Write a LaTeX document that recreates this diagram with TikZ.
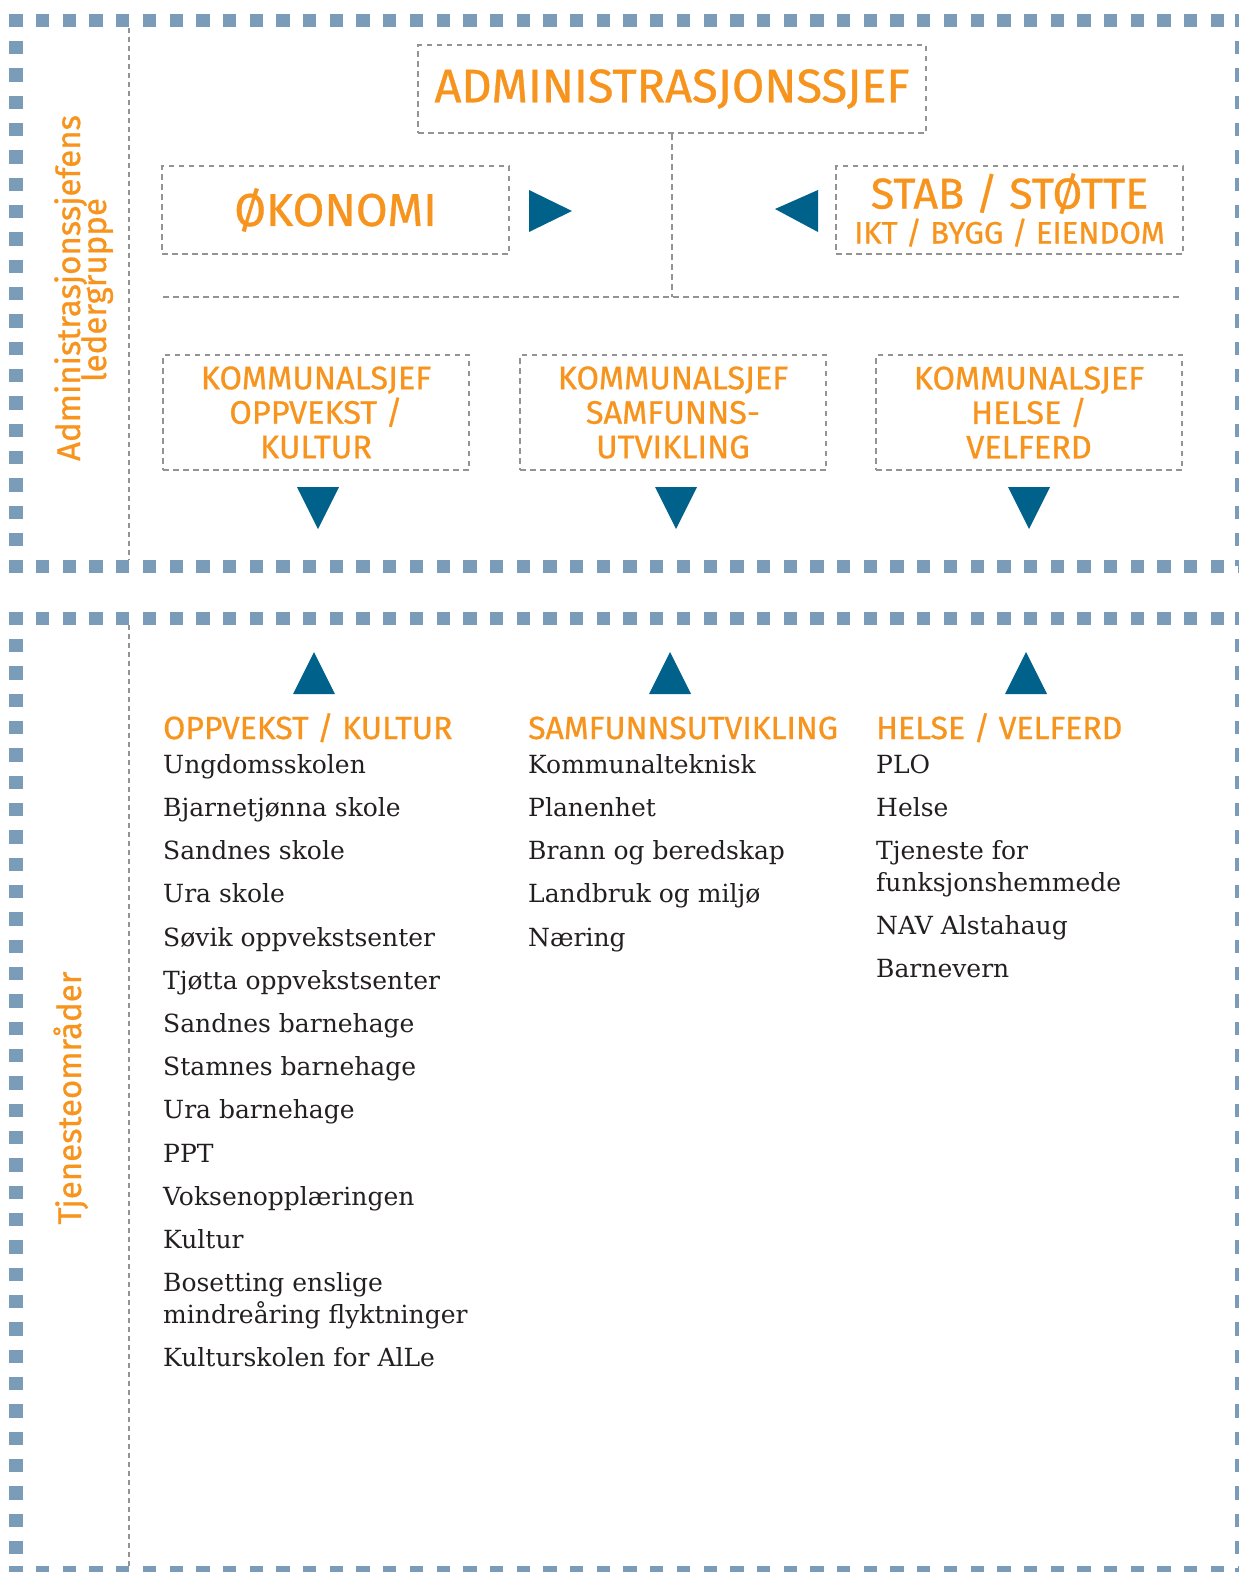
\documentclass[tikz,border=0pt]{standalone}
\usepackage{fontspec}
\setmainfont{DejaVu Serif}
\newfontfamily\hdfont[FakeBold=0.8]{Fira Sans}
\definecolor{orng}{HTML}{F7941D}
\definecolor{tri}{HTML}{00618A}
\definecolor{bsqcol}{HTML}{7A9CB8}
\definecolor{gline}{HTML}{939393}
\definecolor{txt}{HTML}{231F20}
\begin{document}
\begin{tikzpicture}[x=1pt,y=-1pt,
  bsq/.style={draw=bsqcol, line width=13.3pt, dash pattern=on 13.3pt off 13.4pt},
  bsqv/.style={draw=bsqcol, line width=13.3pt, dash pattern=on 13.3pt off 14.03pt},
  gdash/.style={draw=gline, line width=2.8pt, dash pattern=on 5.5pt off 4.5pt},
  gdot/.style={draw=gline, line width=2.3pt, dash pattern=on 4.5pt off 4.5pt},
  gbox/.style={gdash, inner sep=0pt, text=orng, align=center},
  tri/.style={fill=tri},
  head/.style={anchor=base west, inner sep=0pt, text=orng, font=\hdfont\fontsize{32}{34}\selectfont},
  item/.style={anchor=base west, inner sep=0pt, text=txt, align=left, font=\fontsize{25}{32}\selectfont},
  ksj/.style={gbox, minimum width=306pt, minimum height=115pt, font=\hdfont\fontsize{32.5}{34.5}\selectfont},
  vlab/.style={rotate=90, anchor=base, inner sep=0pt, text=orng, font=\hdfont\fontsize{33}{36}\selectfont}
]
\useasboundingbox (0,0) rectangle (1239,1572);
\clip (0,0) rectangle (1239,1572);

% outer frames
\draw[bsq] (9.3,20.5) -- (1250,20.5);
\draw[bsqv] (16,13.8) -- (16,566);
\draw[bsq] (9.3,566.5) -- (1250,566.5);
\draw[bsqv] (1242,13.8) -- (1242,566);
\draw[bsq] (9.3,618.5) -- (1250,618.5);
\draw[bsqv] (16,611.8) -- (16,1580);
\draw[bsq] (9.3,1572.7) -- (1250,1572.7);
\draw[bsqv] (1242,611.8) -- (1242,1580);

% inner separators
\coordinate (sepA1) at (129,28);
\coordinate (sepA2) at (129,560);
\coordinate (sepB1) at (129,625);
\coordinate (sepB2) at (129,1566);
\draw[gdot] (sepA1) -- (sepA2);
\draw[gdot] (sepB1) -- (sepB2);

% side labels
\node[vlab] (lab1) at (80,288) {Administrasjonssjefens};
\node[vlab] (lab2) at (106,290) {ledergruppe};
\node[vlab] (lab3) at (81,1098) {Tjenesteområder};

% top boxes
\node[gbox, minimum width=508pt, minimum height=88pt, font=\hdfont\fontsize{47}{50}\selectfont] (admin) at (672,89) {ADMINISTRASJONSSJEF};
\node[gbox, minimum width=347pt, minimum height=88pt, font=\hdfont\fontsize{46}{50}\selectfont] (okon) at (335.5,210) {ØKONOMI};
\node[gbox, minimum width=347pt, minimum height=88pt, font=\hdfont\fontsize{31}{35}\selectfont] (stab) at (1009.5,210)
  {{\fontsize{43}{35}\selectfont STAB / STØTTE}\\IKT / BYGG / EIENDOM};

% connectors
\coordinate (hl1) at (163,297);
\coordinate (hl2) at (1181,297);
\draw[gdash] (hl1) -- (hl2);
\draw[gdash] (admin.south) -- (admin.south |- hl1);

% horizontal triangles
\fill[tri] (529,190) -- (572,211) -- (529,232) -- cycle;
\fill[tri] (818,190) -- (775,209) -- (818,232) -- cycle;

% kommunalsjef boxes
\node[ksj] (k1) at (316,412.5) {KOMMUNALSJEF\\OPPVEKST /\\KULTUR};
\node[ksj] (k2) at (673,412.5) {KOMMUNALSJEF\\SAMFUNNS-\\UTVIKLING};
\node[ksj] (k3) at (1029,412.5) {KOMMUNALSJEF\\HELSE /\\VELFERD};

% down triangles
\fill[tri] (297,487) -- (339,487) -- (318,529) -- cycle;
\fill[tri] (655,487) -- (697,487) -- (676,529) -- cycle;
\fill[tri] (1008,487) -- (1050,487) -- (1029,529) -- cycle;

% up triangles
\fill[tri] (293,694) -- (335,694) -- (314,652) -- cycle;
\fill[tri] (649,694) -- (691,694) -- (670,652) -- cycle;
\fill[tri] (1005,694) -- (1047,694) -- (1026,652) -- cycle;

% column headings
\node[head] (h1) at (163,739) {OPPVEKST / KULTUR};
\node[head] (h2) at (528,739) {SAMFUNNSUTVIKLING};
\node[head] (h3) at (876,739) {HELSE / VELFERD};

% column 1
\node[item] (a1) at (163,773) {Ungdomsskolen};
\node[item] (a2) at (163,816) {Bjarnetjønna skole};
\node[item] (a3) at (163,859.5) {Sandnes skole};
\node[item] (a4) at (163,902.5) {Ura skole};
\node[item] (a5) at (163,946) {Søvik oppvekstsenter};
\node[item] (a6) at (163,989) {Tjøtta oppvekstsenter};
\node[item] (a7) at (163,1032) {Sandnes barnehage};
\node[item] (a8) at (163,1075.5) {Stamnes barnehage};
\node[item] (a9) at (163,1118.5) {Ura barnehage};
\node[item] (a10) at (163,1162) {PPT};
\node[item] (a11) at (163,1205) {Voksenopplæringen};
\node[item] (a12) at (163,1248) {Kultur};
\node[item] (a13) at (163,1291) {Bosetting enslige};
\node[item] (a13b) at (163,1323) {mindreåring flyktninger};
\node[item] (a14) at (163,1366) {Kulturskolen for AlLe};

% column 2
\node[item] (b1) at (528,773) {Kommunalteknisk};
\node[item] (b2) at (528,816) {Planenhet};
\node[item] (b3) at (528,859.5) {Brann og beredskap};
\node[item] (b4) at (528,902.5) {Landbruk og miljø};
\node[item] (b5) at (528,946) {Næring};

% column 3
\node[item] (c1) at (876,773) {PLO};
\node[item] (c2) at (876,816) {Helse};
\node[item] (c3) at (876,859.5) {Tjeneste for};
\node[item] (c3b) at (876,891.5) {funksjonshemmede};
\node[item] (c4) at (876,934) {NAV Alstahaug};
\node[item] (c5) at (876,977) {Barnevern};
\end{tikzpicture}
\end{document}
